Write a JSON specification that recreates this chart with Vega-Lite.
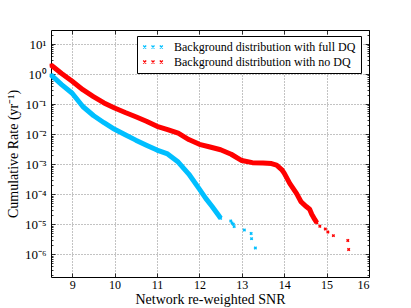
{
  "$schema": "https://vega.github.io/schema/vega-lite/v6.json",
  "width": 318,
  "height": 247,
  "autosize": "none",
  "padding": {"left": 51, "top": 30, "right": 42, "bottom": 31},
  "background": "white",
  "config": {
    "view": {"stroke": "black", "strokeWidth": 1},
    "font": "Liberation Serif",
    "legend": {"labelFont": "Liberation Serif"},
    "axis": {"labelFont": "Liberation Serif", "titleFont": "Liberation Serif", "labelColor": "black", "titleColor": "black", "titleFontWeight": "normal", "tickColor": "black", "tickWidth": 0.8, "labelFontSize": 12, "titleFontSize": 14}
  },
  "datasets": {
    "pts": [
      {"snr": 8.5, "rate": 0.933, "series": "Background distribution with full DQ"},
      {"snr": 8.75, "rate": 0.447, "series": "Background distribution with full DQ"},
      {"snr": 9.0, "rate": 0.229, "series": "Background distribution with full DQ"},
      {"snr": 9.25, "rate": 0.0832, "series": "Background distribution with full DQ"},
      {"snr": 9.5, "rate": 0.0417, "series": "Background distribution with full DQ"},
      {"snr": 9.75, "rate": 0.024, "series": "Background distribution with full DQ"},
      {"snr": 10.0, "rate": 0.01445, "series": "Background distribution with full DQ"},
      {"snr": 10.25, "rate": 0.00955, "series": "Background distribution with full DQ"},
      {"snr": 10.5, "rate": 0.00631, "series": "Background distribution with full DQ"},
      {"snr": 10.75, "rate": 0.00427, "series": "Background distribution with full DQ"},
      {"snr": 11.0, "rate": 0.00295, "series": "Background distribution with full DQ"},
      {"snr": 11.25, "rate": 0.00219, "series": "Background distribution with full DQ"},
      {"snr": 11.5, "rate": 0.001175, "series": "Background distribution with full DQ"},
      {"snr": 11.75, "rate": 0.000468, "series": "Background distribution with full DQ"},
      {"snr": 12.0, "rate": 0.000148, "series": "Background distribution with full DQ"},
      {"snr": 12.15, "rate": 0.0000724, "series": "Background distribution with full DQ"},
      {"snr": 12.3, "rate": 0.0000389, "series": "Background distribution with full DQ"},
      {"snr": 12.46, "rate": 0.00001905, "series": "Background distribution with full DQ"},
      {"snr": 12.5, "rate": 0.00001585, "series": "Background distribution with full DQ"},
      {"snr": 12.74, "rate": 0.00001288, "series": "Background distribution with full DQ"},
      {"snr": 12.77, "rate": 0.00001096, "series": "Background distribution with full DQ"},
      {"snr": 12.8, "rate": 0.00001, "series": "Background distribution with full DQ"},
      {"snr": 12.82, "rate": 0.00000832, "series": "Background distribution with full DQ"},
      {"snr": 13.06, "rate": 0.00000646, "series": "Background distribution with full DQ"},
      {"snr": 13.22, "rate": 0.0000049, "series": "Background distribution with full DQ"},
      {"snr": 13.23, "rate": 0.00000331, "series": "Background distribution with full DQ"},
      {"snr": 13.32, "rate": 0.00000162, "series": "Background distribution with full DQ"},
      {"snr": 8.5, "rate": 1.995, "series": "Background distribution with no DQ"},
      {"snr": 8.75, "rate": 1.047, "series": "Background distribution with no DQ"},
      {"snr": 9.0, "rate": 0.575, "series": "Background distribution with no DQ"},
      {"snr": 9.25, "rate": 0.302, "series": "Background distribution with no DQ"},
      {"snr": 9.5, "rate": 0.178, "series": "Background distribution with no DQ"},
      {"snr": 9.75, "rate": 0.1096, "series": "Background distribution with no DQ"},
      {"snr": 10.0, "rate": 0.0741, "series": "Background distribution with no DQ"},
      {"snr": 10.25, "rate": 0.0525, "series": "Background distribution with no DQ"},
      {"snr": 10.5, "rate": 0.038, "series": "Background distribution with no DQ"},
      {"snr": 10.75, "rate": 0.0269, "series": "Background distribution with no DQ"},
      {"snr": 11.0, "rate": 0.0182, "series": "Background distribution with no DQ"},
      {"snr": 11.25, "rate": 0.01413, "series": "Background distribution with no DQ"},
      {"snr": 11.5, "rate": 0.01072, "series": "Background distribution with no DQ"},
      {"snr": 11.75, "rate": 0.00661, "series": "Background distribution with no DQ"},
      {"snr": 12.0, "rate": 0.00457, "series": "Background distribution with no DQ"},
      {"snr": 12.25, "rate": 0.00372, "series": "Background distribution with no DQ"},
      {"snr": 12.5, "rate": 0.00302, "series": "Background distribution with no DQ"},
      {"snr": 12.75, "rate": 0.00214, "series": "Background distribution with no DQ"},
      {"snr": 13.0, "rate": 0.001318, "series": "Background distribution with no DQ"},
      {"snr": 13.25, "rate": 0.001122, "series": "Background distribution with no DQ"},
      {"snr": 13.5, "rate": 0.001096, "series": "Background distribution with no DQ"},
      {"snr": 13.7, "rate": 0.001047, "series": "Background distribution with no DQ"},
      {"snr": 13.82, "rate": 0.000933, "series": "Background distribution with no DQ"},
      {"snr": 13.94, "rate": 0.000661, "series": "Background distribution with no DQ"},
      {"snr": 14.0, "rate": 0.000501, "series": "Background distribution with no DQ"},
      {"snr": 14.13, "rate": 0.000229, "series": "Background distribution with no DQ"},
      {"snr": 14.29, "rate": 0.000107, "series": "Background distribution with no DQ"},
      {"snr": 14.4, "rate": 0.000055, "series": "Background distribution with no DQ"},
      {"snr": 14.52, "rate": 0.0000389, "series": "Background distribution with no DQ"},
      {"snr": 14.6, "rate": 0.0000316, "series": "Background distribution with no DQ"},
      {"snr": 14.65, "rate": 0.0000214, "series": "Background distribution with no DQ"},
      {"snr": 14.72, "rate": 0.00001445, "series": "Background distribution with no DQ"},
      {"snr": 14.77, "rate": 0.00001122, "series": "Background distribution with no DQ"},
      {"snr": 14.84, "rate": 0.00000851, "series": "Background distribution with no DQ"},
      {"snr": 14.97, "rate": 0.00000692, "series": "Background distribution with no DQ"},
      {"snr": 15.03, "rate": 0.0000055, "series": "Background distribution with no DQ"},
      {"snr": 15.16, "rate": 0.00000417, "series": "Background distribution with no DQ"},
      {"snr": 15.5, "rate": 0.00000288, "series": "Background distribution with no DQ"},
      {"snr": 15.52, "rate": 0.000001445, "series": "Background distribution with no DQ"}
    ]
  },
  "data": {"name": "pts"},
  "resolve": {"axis": {"x": "independent", "y": "independent"}},
  "layer": [
    {
      "transform": [{"filter": "(datum.series == 'Background distribution with full DQ' && datum.snr <= 12.5) || (datum.series == 'Background distribution with no DQ' && datum.snr <= 14.77)"}],
      "mark": {"type": "line", "strokeWidth": 5, "strokeJoin": "round"},
      "encoding": {
        "x": {"field": "snr", "type": "quantitative",
          "scale": {"domain": [8.5, 16], "nice": false, "zero": false},
          "axis": {"orient": "bottom", "values": [9, 10, 11, 12, 13, 14, 15, 16], "offset": -4, "tickSize": 4, "domain": false,
            "grid": true, "gridColor": "#000", "gridDash": [1, 2], "gridOpacity": 0.6, "gridWidth": 0.8,
            "labelPadding": 2, "title": "Network re-weighted SNR", "titlePadding": 2}},
        "y": {"field": "rate", "type": "quantitative",
          "scale": {"type": "log", "domain": [1.75e-7, 29.3], "nice": false},
          "axis": {"orient": "left", "values": [1e-6, 1e-5, 1e-4, 0.001, 0.01, 0.1, 1, 10], "offset": -4, "tickSize": 4, "domain": false,
            "grid": true, "gridColor": "#000", "gridDash": [1, 2], "gridOpacity": 0.6, "gridWidth": 0.8,
            "labelPadding": 5, "labelFontSize": 13,
            "labelExpr": "datum.value >= 5 ? '10¹' : datum.value >= 0.5 ? '10⁰' : datum.value >= 0.05 ? '10⁻¹' : datum.value >= 0.005 ? '10⁻²' : datum.value >= 0.0005 ? '10⁻³' : datum.value >= 0.00005 ? '10⁻⁴' : datum.value >= 0.000005 ? '10⁻⁵' : '10⁻⁶'",
            "title": "Cumulative Rate (yr⁻¹)", "titlePadding": 4}},
        "color": {"field": "series", "type": "nominal",
          "scale": {"domain": ["Background distribution with full DQ", "Background distribution with no DQ"], "range": ["#00bfff", "#ff0000"]},
          "legend": {"orient": "none", "legendX": 86, "legendY": 6, "title": null,
            "symbolType": "M-1.96,-0.3L-1.36,0.3M-1.96,0.3L-1.36,-0.3M-0.3,-0.3L0.3,0.3M-0.3,0.3L0.3,-0.3M1.36,-0.3L1.96,0.3M1.36,0.3L1.96,-0.3",
            "symbolSize": 100, "symbolStrokeWidth": 1.3, "symbolOffset": 5,
            "labelFont": "Liberation Serif", "labelFontSize": 12, "labelColor": "black", "labelOffset": 15, "labelLimit": 400,
            "strokeColor": "black", "fillColor": "white", "padding": 5, "cornerRadius": 0, "rowPadding": 3}}
      }
    },
    {
      "mark": {"type": "point", "shape": "cross", "angle": 45, "filled": true, "size": 12, "opacity": 1},
      "encoding": {
        "x": {"field": "snr", "type": "quantitative",
          "scale": {"domain": [8.5, 16], "nice": false, "zero": false},
          "axis": {"orient": "top", "values": [9, 10, 11, 12, 13, 14, 15, 16], "offset": -4, "tickSize": 4, "domain": false, "grid": false, "labels": false, "title": null}},
        "y": {"field": "rate", "type": "quantitative",
          "scale": {"type": "log", "domain": [1.75e-7, 29.3], "nice": false},
          "axis": {"orient": "right", "values": [1e-6, 1e-5, 1e-4, 0.001, 0.01, 0.1, 1, 10], "offset": -4, "tickSize": 4, "domain": false, "grid": false, "labels": false, "title": null}},
        "color": {"field": "series", "type": "nominal", "legend": null}
      }
    },
    {
      "mark": {"type": "point", "opacity": 0},
      "encoding": {
        "x": {"field": "snr", "type": "quantitative", "axis": null},
        "y": {"field": "rate", "type": "quantitative",
          "scale": {"type": "log", "domain": [1.75e-7, 29.3], "nice": false},
          "axis": {"orient": "left", "values": [2e-7, 3e-7, 4e-7, 5e-7, 6e-7, 7e-7, 8e-7, 9e-7, 2e-6, 3e-6, 4e-6, 5e-6, 6e-6, 7e-6, 8e-6, 9e-6, 2e-5, 3e-5, 4e-5, 5e-5, 6e-5, 7e-5, 8e-5, 9e-5, 2e-4, 3e-4, 4e-4, 5e-4, 6e-4, 7e-4, 8e-4, 9e-4, 0.002, 0.003, 0.004, 0.005, 0.006, 0.007, 0.008, 0.009, 0.02, 0.03, 0.04, 0.05, 0.06, 0.07, 0.08, 0.09, 0.2, 0.3, 0.4, 0.5, 0.6, 0.7, 0.8, 0.9, 2, 3, 4, 5, 6, 7, 8, 9, 20], "offset": -2, "tickSize": 2, "domain": false, "grid": false, "labels": false, "title": null}}
      }
    },
    {
      "mark": {"type": "point", "opacity": 0},
      "encoding": {
        "x": {"field": "snr", "type": "quantitative", "axis": null},
        "y": {"field": "rate", "type": "quantitative",
          "scale": {"type": "log", "domain": [1.75e-7, 29.3], "nice": false},
          "axis": {"orient": "right", "values": [2e-7, 3e-7, 4e-7, 5e-7, 6e-7, 7e-7, 8e-7, 9e-7, 2e-6, 3e-6, 4e-6, 5e-6, 6e-6, 7e-6, 8e-6, 9e-6, 2e-5, 3e-5, 4e-5, 5e-5, 6e-5, 7e-5, 8e-5, 9e-5, 2e-4, 3e-4, 4e-4, 5e-4, 6e-4, 7e-4, 8e-4, 9e-4, 0.002, 0.003, 0.004, 0.005, 0.006, 0.007, 0.008, 0.009, 0.02, 0.03, 0.04, 0.05, 0.06, 0.07, 0.08, 0.09, 0.2, 0.3, 0.4, 0.5, 0.6, 0.7, 0.8, 0.9, 2, 3, 4, 5, 6, 7, 8, 9, 20], "offset": -2, "tickSize": 2, "domain": false, "grid": false, "labels": false, "title": null}}
      }
    }
  ]
}
